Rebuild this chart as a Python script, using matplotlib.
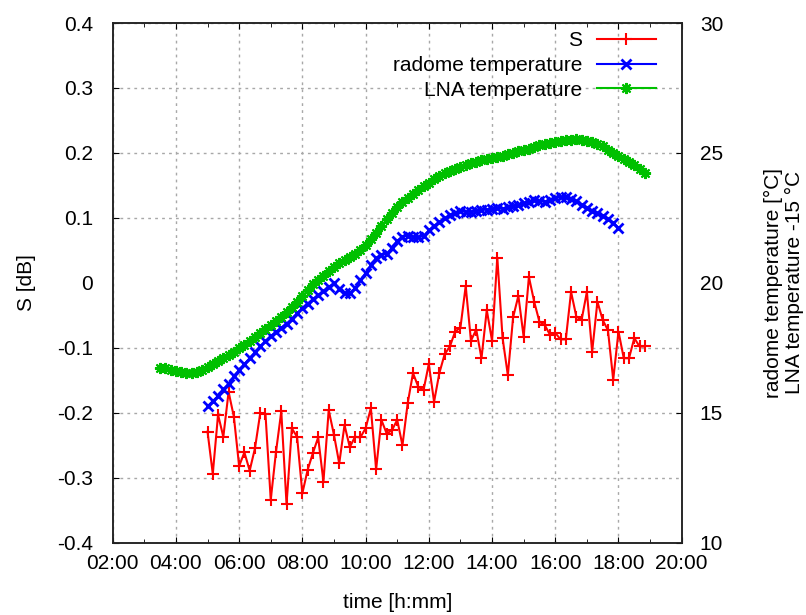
import matplotlib
matplotlib.use("Agg")
import matplotlib.pyplot as plt
import numpy as np
from matplotlib.ticker import FuncFormatter, MultipleLocator

plt.rcParams["font.family"] = ["Liberation Sans", "DejaVu Sans"]
plt.rcParams["font.size"] = 15

STEP = 1.0 / 6.0  # 10 minute sampling

# S [dB], 05:00 .. 18:50
s_start = 5.0
s_values = [
    -0.229, -0.294, -0.203, -0.237, -0.168, -0.206,
    -0.282, -0.261, -0.289, -0.255, -0.201, -0.202,
    -0.334, -0.260, -0.198, -0.341, -0.224, -0.237,
    -0.324, -0.288, -0.262, -0.238, -0.306, -0.196,
    -0.234, -0.278, -0.219, -0.253, -0.237, -0.238,
    -0.224, -0.193, -0.287, -0.211, -0.232, -0.227,
    -0.211, -0.250, -0.185, -0.139, -0.160, -0.165,
    -0.125, -0.183, -0.139, -0.110, -0.098, -0.075,
    -0.069, -0.005, -0.089, -0.072, -0.116, -0.042,
    -0.089, 0.039, -0.085, -0.142, -0.053, -0.020,
    -0.083, 0.009, -0.029, -0.060, -0.065, -0.080,
    -0.077, -0.087, -0.087, -0.014, -0.052, -0.057,
    -0.014, -0.106, -0.029, -0.057, -0.073, -0.149,
    -0.075, -0.116, -0.116, -0.085, -0.098, -0.098,
]

# radome temperature [°C], 05:00 .. 18:00
radome_start = 5.0
radome_values = [
    15.25, 15.45, 15.65, 15.90, 16.12, 16.40,
    16.65, 16.88, 17.10, 17.33, 17.55, 17.75,
    17.95, 18.12, 18.28, 18.43, 18.62, 18.83,
    19.02, 19.20, 19.38, 19.53, 19.68, 19.85,
    19.98, 19.78, 19.62, 19.60, 19.80, 20.10,
    20.38, 20.68, 20.95, 21.08, 21.12, 21.35,
    21.62, 21.78, 21.82, 21.78, 21.76, 21.80,
    22.02, 22.20, 22.35, 22.48, 22.60, 22.70,
    22.75, 22.74, 22.74, 22.78, 22.80, 22.82,
    22.84, 22.87, 22.85, 22.90, 22.95, 23.00,
    23.06, 23.12, 23.18, 23.15, 23.12, 23.20,
    23.26, 23.30, 23.30, 23.24, 23.14, 23.00,
    22.88, 22.78, 22.68, 22.58, 22.46, 22.32,
    22.12,
]

# LNA temperature - 15 °C, 03:30 .. 18:50
lna_start = 3.5
lna_values = [
    16.74, 16.71, 16.65,
    16.59, 16.55, 16.52, 16.54, 16.58, 16.66,
    16.77, 16.88, 16.99, 17.10, 17.23, 17.35,
    17.48, 17.61, 17.75, 17.90, 18.06, 18.21,
    18.36, 18.52, 18.69, 18.87, 19.07, 19.27,
    19.48, 19.72, 19.95, 20.12, 20.28, 20.46,
    20.62, 20.75, 20.88, 20.98, 21.10, 21.25,
    21.45, 21.68, 21.92, 22.18, 22.45, 22.70,
    22.92, 23.10, 23.27, 23.43, 23.58, 23.72,
    23.85, 23.98, 24.10, 24.22, 24.31, 24.38,
    24.45, 24.53, 24.60, 24.66, 24.71, 24.76,
    24.80, 24.85, 24.90, 24.96, 25.01, 25.06,
    25.11, 25.17, 25.23, 25.29, 25.34, 25.38,
    25.42, 25.45, 25.48, 25.51, 25.52, 25.50,
    25.46, 25.41, 25.35, 25.27, 25.12, 25.00,
    24.90, 24.78, 24.65, 24.52, 24.38, 24.22,
]

s_hours = s_start + np.arange(len(s_values)) * STEP
radome_hours = radome_start + np.arange(len(radome_values)) * STEP
lna_hours = lna_start + np.arange(len(lna_values)) * STEP

fig = plt.figure(figsize=(8.06, 6.15), dpi=100)
ax = fig.add_axes([0.1398, 0.1176, 0.7060, 0.8450])
ax2 = ax.twinx()

line_s, = ax.plot(s_hours, s_values, color="#ff0000", lw=1.5,
                  marker="+", ms=9, mew=1.5, label="S")
line_r, = ax2.plot(radome_hours, radome_values, color="#0000ff", lw=1.5,
                   marker="x", ms=7, mew=2.0, label="radome temperature")
line_l, = ax2.plot(lna_hours, lna_values, color="#00c000", lw=1.5,
                   marker=(8, 2, 0), ms=8, mew=1.5, label="LNA temperature")

ax.set_xlim(2, 20)
ax.set_ylim(-0.4, 0.4)
ax2.set_ylim(10, 30)

ax.xaxis.set_major_locator(MultipleLocator(2))
ax.xaxis.set_minor_locator(MultipleLocator(1))
ax.xaxis.set_major_formatter(FuncFormatter(lambda v, p: f"{int(round(v)):02d}:00"))
ax.set_yticks(np.round(np.arange(-0.4, 0.41, 0.1), 1))
ax.yaxis.set_major_formatter(FuncFormatter(lambda v, p: "0" if abs(v) < 1e-9 else f"{v:.1f}"))
ax2.set_yticks(np.arange(10, 31, 5))

ax.tick_params(axis="x", which="both", direction="in", top=True, pad=8)
ax.tick_params(axis="x", which="major", length=4.5)
ax.tick_params(axis="x", which="minor", length=3)
ax.tick_params(axis="y", direction="in", length=4.5, pad=14, right=False)
ax2.tick_params(axis="y", direction="in", length=4.5, pad=13)

ax.xaxis.grid(True, which="major", color="#a8a8a8", linestyle=(0, (2, 3)), linewidth=1.0)
ax.yaxis.grid(True, which="major", color="#a8a8a8", linestyle=(0, (2, 3)), linewidth=1.0)
ax.set_axisbelow(True)

# no tick or grid line at the zero level
for t, loc in zip(ax.yaxis.get_major_ticks(), ax.get_yticks()):
    if abs(loc) < 1e-9:
        t.gridline.set_visible(False)
        t.tick1line.set_visible(False)
        t.tick2line.set_visible(False)
for t, loc in zip(ax2.yaxis.get_major_ticks(), ax2.get_yticks()):
    if abs(loc - 20) < 1e-9:
        t.tick1line.set_visible(False)
        t.tick2line.set_visible(False)

for a in (ax, ax2):
    for sp in a.spines.values():
        sp.set_color("#222222")
        sp.set_linewidth(1.1)

ax.set_xlabel("time [h:mm]")
ax.xaxis.label.set_va("center")
ax.xaxis.set_label_coords(0.5, -0.116)
ax.set_ylabel("S [dB]")
ax.yaxis.label.set_va("center")
ax.yaxis.set_label_coords(-0.151, 0.5)
ax2.set_ylabel("radome temperature [°C]\nLNA temperature -15 °C", linespacing=1.15)
ax2.yaxis.label.set_va("center")
ax2.yaxis.set_label_coords(1.18, 0.5)

leg = ax2.legend(handles=[line_s, line_r, line_l], loc="upper right",
                 bbox_to_anchor=(656 / 806, 1 - 31 / 615), bbox_transform=fig.transFigure,
                 frameon=False, markerfirst=False, handlelength=2.85,
                 handletextpad=0.7, labelspacing=0.28, borderpad=0, borderaxespad=0)

fig.savefig("out.png", dpi=100)
